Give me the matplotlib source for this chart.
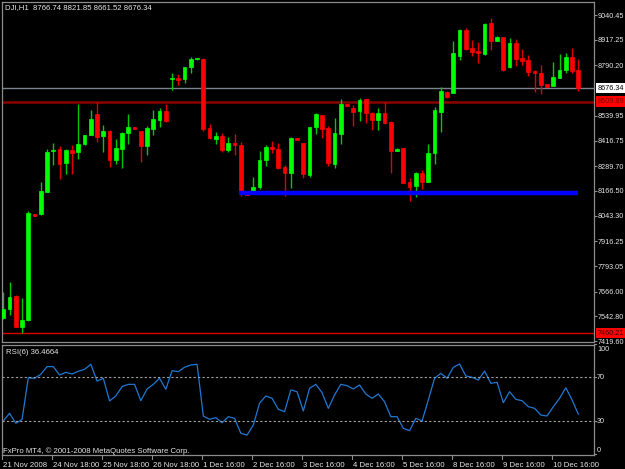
import matplotlib
matplotlib.use("Agg")
import matplotlib.pyplot as plt
from matplotlib.patches import Rectangle
import matplotlib.transforms as mtransforms
import numpy as np

plt.rcParams['font.family'] = ['Liberation Sans', 'DejaVu Sans']

symbol_title = "DJI,H1  8766.74 8821.85 8661.52 8676.34"
rsi_title = "RSI(6) 36.4664"
copyright_text = "FxPro MT4, \u00a9 2001-2008 MetaQuotes Software Corp."

opens = [7532.9, 7577.6, 7643.9, 7491.4, 7524.6, 8049.7, 8049.7, 8162.4, 8364.5, 8372.8,
         8303.2, 8369.5, 8359.5, 8397.7, 8444.0, 8548.4, 8439.1, 8465.6, 8319.8, 8374.5,
         8452.3, 8482.1, 8463.9, 8391.0, 8475.5, 8518.6, 8563.3, 8720.7, 8725.7, 8720.7,
         8780.3, 8820.1, 8821.8, 8477.2, 8422.5, 8439.1, 8369.5, 8402.6, 8394.3, 8157.4,
         8154.1, 8183.9, 8319.8, 8386.1, 8372.8, 8286.6, 8256.8, 8427.5, 8402.6, 8245.2,
         8482.1, 8543.4, 8480.5, 8299.9, 8447.3, 8598.1, 8576.6, 8565.0, 8621.3, 8551.7,
         8518.6, 8555.0, 8510.3, 8366.2, 8377.8, 8212.1, 8192.2, 8253.5, 8212.1, 8356.2,
         8560.0, 8659.4, 8654.4, 8836.7, 8965.9, 8878.1, 8863.2, 8846.6, 8999.0, 8911.2,
         8929.4, 8780.3, 8899.6, 8825.1, 8816.8, 8762.1, 8753.8, 8695.9, 8687.6, 8729.0,
         8767.1, 8833.4, 8766.74]
highs = [7665.4, 7715.1, 7648.8, 7632.3, 8068.0, 8053.0, 8212.1, 8372.8, 8402.6, 8389.4,
         8372.8, 8394.3, 8598.1, 8445.7, 8568.3, 8609.89, 8493.7, 8468.9, 8422.5, 8460.6,
         8546.8, 8483.8, 8466.0, 8490.4, 8568.3, 8579.9, 8598.1, 8750.5, 8747.2, 8783.7,
         8830.0, 8826.7, 8825.1, 8498.7, 8460.6, 8455.6, 8435.8, 8447.3, 8410.9, 8159.1,
         8236.9, 8364.5, 8394.3, 8415.9, 8402.6, 8294.9, 8435.8, 8429.1, 8404.3, 8485.5,
         8555.0, 8545.1, 8488.8, 8530.2, 8623.0, 8599.8, 8593.1, 8629.6, 8624.6, 8560.0,
         8579.9, 8608.1, 8512.0, 8377.8, 8381.1, 8228.7, 8261.8, 8270.1, 8399.3, 8584.9,
         8684.3, 8661.1, 8911.2, 8969.2, 8974.2, 8916.2, 8907.9, 8999.0, 9023.9, 8934.4,
         8931.1, 8927.8, 8921.2, 8871.5, 8841.6, 8767.1, 8791.9, 8697.5, 8808.5, 8845.0,
         8853.2, 8878.1, 8821.85]
lows = [7527.9, 7549.4, 7488.1, 7460.21, 7521.3, 8041.5, 8046.4, 8159.1, 8294.9, 8225.4,
        8250.2, 8250.2, 8326.4, 8392.7, 8442.4, 8407.6, 8357.9, 8286.6, 8299.9, 8281.7,
        8397.7, 8473.9, 8308.2, 8343.0, 8444.0, 8485.5, 8510.3, 8667.7, 8692.5, 8700.8,
        8750.5, 8818.5, 8465.6, 8422.5, 8399.3, 8361.2, 8357.9, 8344.6, 8140.9, 8145.8,
        8150.8, 8174.0, 8290.0, 8356.2, 8273.4, 8140.9, 8179.0, 8417.5, 8228.7, 8233.6,
        8449.0, 8430.8, 8290.0, 8281.7, 8397.7, 8586.5, 8488.8, 8515.3, 8505.3, 8468.9,
        8468.9, 8497.1, 8256.8, 8364.5, 8203.8, 8117.7, 8137.5, 8175.7, 8210.4, 8299.9,
        8460.6, 8629.6, 8652.8, 8816.8, 8866.5, 8836.7, 8803.5, 8841.6, 8866.5, 8909.6,
        8762.1, 8778.7, 8787.0, 8791.9, 8737.3, 8659.4, 8647.8, 8682.6, 8685.9, 8727.3,
        8750.5, 8750.5, 8661.52]
closes = [7577.6, 7640.5, 7491.4, 7524.6, 8054.7, 8043.1, 8167.4, 8361.2, 8369.5, 8299.9,
          8369.5, 8356.2, 8397.7, 8444.0, 8525.2, 8435.8, 8465.6, 8319.8, 8377.8, 8455.6,
          8482.1, 8475.5, 8391.0, 8480.5, 8521.9, 8563.3, 8513.6, 8725.7, 8719.0, 8780.3,
          8820.1, 8825.1, 8472.2, 8427.5, 8439.1, 8369.5, 8402.6, 8392.7, 8154.1, 8147.5,
          8183.9, 8319.8, 8386.1, 8376.1, 8281.7, 8256.8, 8430.8, 8419.2, 8250.2, 8482.1,
          8548.4, 8473.9, 8303.2, 8452.3, 8598.1, 8588.2, 8560.0, 8618.0, 8551.7, 8518.6,
          8555.0, 8505.3, 8366.2, 8376.1, 8207.1, 8187.2, 8253.5, 8212.1, 8352.9, 8568.3,
          8664.4, 8631.2, 8853.2, 8965.9, 8871.5, 8858.2, 8849.9, 8995.7, 8911.2, 8932.8,
          8767.1, 8899.6, 8820.1, 8811.8, 8758.8, 8753.8, 8692.5, 8684.3, 8734.0, 8767.1,
          8833.4, 8762.1, 8676.34]
rsi = [30.3, 37.3, 28.2, 31.8, 69.6, 69.1, 72.7, 79.7, 79.7, 72.1,
       74.5, 73.0, 75.5, 77.3, 81.8, 66.6, 69.1, 48.5, 53.0, 61.5,
       63.6, 63.6, 48.7, 59.4, 63.6, 69.1, 59.1, 76.0, 75.1, 79.1,
       81.2, 81.8, 34.8, 31.8, 33.3, 28.7, 34.2, 32.7, 19.1, 17.5,
       26.6, 46.4, 53.0, 50.9, 40.9, 38.7, 58.5, 56.9, 39.4, 60.0,
       63.6, 56.0, 41.8, 53.9, 63.6, 62.4, 59.4, 63.0, 54.8, 50.9,
       54.8, 47.8, 34.2, 34.2, 23.6, 21.5, 32.7, 30.3, 49.4, 69.1,
       73.6, 69.1, 79.1, 82.1, 71.2, 70.0, 67.5, 75.7, 64.5, 65.5,
       46.9, 56.9, 50.0, 48.7, 43.3, 41.8, 35.7, 34.8, 43.3, 50.9,
       60.5, 49.4, 36.47]

time_label_bars = [0, 8, 16, 24, 32, 40, 48, 56, 64, 72, 80, 88]
time_labels = ["21 Nov 2008", "24 Nov 18:00", "25 Nov 18:00", "26 Nov 18:00",
               "1 Dec 16:00", "2 Dec 16:00", "3 Dec 16:00", "4 Dec 16:00",
               "5 Dec 16:00", "8 Dec 16:00", "9 Dec 16:00", "10 Dec 16:00"]
price_ticks = [9040.45, 8917.25, 8790.20, 8539.95, 8416.75, 8289.70, 8166.50,
               8043.30, 7916.25, 7793.05, 7666.00, 7542.80, 7419.60]
rsi_levels = [30, 70]
rsi_ticks = [100, 70, 30, 0]

current_price = 8676.34
resistance_level = 8609.89
low_level = 7460.21
support_level = 8154.0
support_start_bar = 38
support_end_bar = 92

W, H = 625, 469
fig = plt.figure(figsize=(W / 100, H / 100), dpi=100, facecolor='black')

def fx(px):
    return px / W

def fy(py):
    return 1 - py / H

ax = fig.add_axes([fx(2), fy(341.5), fx(594) - fx(2), fy(2) - fy(341.5)])
ax2 = fig.add_axes([fx(2), fy(455), fx(594) - fx(2), fy(345) - fy(455)])

frame_col = '#8c8c8c'
txt_col = '#e6e6e6'
fs = 5.6
fs_r = 5.2

for a in (ax, ax2):
    a.set_facecolor('black')
    for s in a.spines.values():
        s.set_color(frame_col)
        s.set_linewidth(0.9)
    a.set_xlim(-0.21, 94.51)

n = len(opens)
idx = np.arange(n)
o = np.array(opens); c = np.array(closes); h = np.array(highs); l = np.array(lows)
up = c >= o

# wicks
ax.vlines(idx[up], l[up], h[up], color='#00c800', linewidth=1.0, zorder=2)
ax.vlines(idx[~up], l[~up], h[~up], color='#e00000', linewidth=1.0, zorder=2)
# bodies
bottoms = np.minimum(o, c)
heights = np.maximum(np.abs(c - o), 1.0)
ax.bar(idx[up], heights[up], bottom=bottoms[up], width=0.6, color='#00ff00',
       edgecolor='#00ff00', linewidth=0.5, zorder=3)
ax.bar(idx[~up], heights[~up], bottom=bottoms[~up], width=0.6, color='#ff0000',
       edgecolor='#ff0000', linewidth=0.5, zorder=3)

ax.set_ylim(7418.3, 9105.1)

# horizontal lines
ax.axhline(current_price, color='#7a8490', linewidth=1.0, zorder=1)
ax.axhline(resistance_level, color='#8c0000', linewidth=1.8, zorder=1)
ax.axhline(low_level, color='#e00000', linewidth=1.0, zorder=1)
ax.hlines(support_level, support_start_bar - 0.3, support_end_bar - 0.1, color='#0000ff',
          linewidth=3.2, zorder=4)

ax.set_xticks([])
ax.yaxis.tick_right()
ax.set_yticks(price_ticks)
ax.set_yticklabels([f"{v:.2f}" for v in price_ticks])
ax.tick_params(axis='y', colors=frame_col, labelcolor=txt_col, length=2, width=0.8,
               pad=0.8, labelsize=fs_r)

# price boxes on right scale: x in figure pixels, y in data
box_tr = mtransforms.blended_transform_factory(
    mtransforms.Affine2D().scale(1 / W, 1) + fig.transFigure, ax.transData)
ppu = (341.5 - 2) / (9105.1 - 7418.3)  # pixels per price unit
half_h = 5.2 / ppu
for val, fc, tc in [(current_price, 'white', 'black'),
                    (resistance_level, '#ff0000', '#800000'),
                    (low_level, '#ff0000', '#300000')]:
    fig.patches.append(Rectangle((595.5, val - half_h), 29.5, 2 * half_h,
                                 transform=box_tr, facecolor=fc, edgecolor='none',
                                 zorder=9))
    fig.text(597.2, val, f"{val:.2f}", transform=box_tr, ha='left', va='center',
             fontsize=fs_r, color=tc, zorder=10)

ax.text(3 / 592, 1 - 6 / 339.5, symbol_title, transform=ax.transAxes, ha='left', va='center',
        fontsize=fs, color=txt_col)

# RSI panel
ax2.plot(idx, rsi, color='#1e78d2', linewidth=0.9)
for lv in rsi_levels:
    ax2.axhline(lv, color='#a0a0a0', linewidth=0.8, linestyle=(0, (2, 2)))
ax2.set_ylim(-0.64, 99.36)
ax2.set_xticks([])
ax2.set_yticks([])
yt2 = ax2.get_yaxis_transform()
for v in rsi_ticks:
    va = 'center'
    yy = v
    if v == 100:
        va = 'top'
        yy = 98.5
    if v == 0:
        va = 'bottom'
        yy = 0.5
    ax2.text(1.005, yy, str(v), transform=yt2, ha='left', va=va, fontsize=fs_r,
             color=txt_col, clip_on=False)
    ax2.plot([1.0, 1.004], [v, v], transform=yt2, color=frame_col, linewidth=0.8,
             clip_on=False)
ax2.text(4 / 592, 1 - 7 / 110, rsi_title, transform=ax2.transAxes, ha='left', va='center',
         fontsize=fs, color=txt_col)
ax2.text(1 / 592, 4 / 110, copyright_text, transform=ax2.transAxes, ha='left', va='center',
         fontsize=fs, color=txt_col)

# time axis labels
xt = ax2.get_xaxis_transform()
for b, lab in zip(time_label_bars, time_labels):
    xb = b - 0.2 if b > 0 else -0.2
    ax2.plot([xb, xb], [0, -0.035], transform=xt, color=frame_col, linewidth=0.8,
             clip_on=False)
    ax2.text(xb + 0.15, -0.065, lab, transform=xt, ha='left', va='top', fontsize=fs,
             color=txt_col, clip_on=False)

fig.savefig('out.png', dpi=100, facecolor='black')
